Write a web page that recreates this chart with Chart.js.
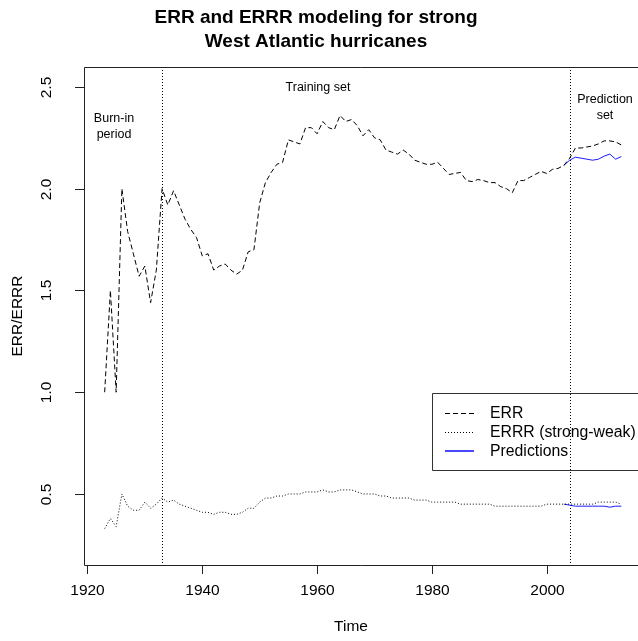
<!DOCTYPE html>
<html>
<head>
<meta charset="utf-8">
<script src="https://cdn.jsdelivr.net/npm/chart.js@4"></script>
<style>
  html, body { margin: 0; padding: 0; background: #fff; }
  #wrap { width: 638px; height: 641px; }
</style>
</head>
<body>
<div id="wrap"><canvas id="myChart" width="638" height="641"></canvas></div>
<script>
"use strict";

// yearly series, 1923-2013
const years = [
  1923, 1924, 1925, 1926, 1927, 1928, 1929, 1930, 1931, 1932,
  1933, 1934, 1935, 1936, 1937, 1938, 1939, 1940, 1941, 1942,
  1943, 1944, 1945, 1946, 1947, 1948, 1949, 1950, 1951, 1952,
  1953, 1954, 1955, 1956, 1957, 1958, 1959, 1960, 1961, 1962,
  1963, 1964, 1965, 1966, 1967, 1968, 1969, 1970, 1971, 1972,
  1973, 1974, 1975, 1976, 1977, 1978, 1979, 1980, 1981, 1982,
  1983, 1984, 1985, 1986, 1987, 1988, 1989, 1990, 1991, 1992,
  1993, 1994, 1995, 1996, 1997, 1998, 1999, 2000, 2001, 2002,
  2003, 2004, 2005, 2006, 2007, 2008, 2009, 2010, 2011, 2012,
  2013
];
const err = [
  1.00, 1.50, 1.00, 2.00, 1.79, 1.68, 1.57, 1.62, 1.44, 1.60,
  2.00, 1.92, 1.99, 1.92, 1.85, 1.80, 1.76, 1.67, 1.68, 1.60,
  1.62, 1.63, 1.60, 1.58, 1.60, 1.69, 1.70, 1.93, 2.03, 2.08,
  2.12, 2.13, 2.24, 2.23, 2.22, 2.30, 2.30, 2.27, 2.33, 2.30,
  2.29, 2.36, 2.33, 2.34, 2.31, 2.26, 2.29, 2.25, 2.24, 2.19,
  2.18, 2.17, 2.19, 2.17, 2.14, 2.13, 2.12, 2.12, 2.13, 2.10,
  2.07, 2.075, 2.08, 2.04, 2.035, 2.045, 2.04, 2.03, 2.03, 2.01,
  2.00, 1.98, 2.04, 2.04, 2.055, 2.07, 2.085, 2.075, 2.095, 2.10,
  2.115, 2.15, 2.20, 2.20, 2.205, 2.21, 2.22, 2.235, 2.235, 2.23,
  2.215
];
const errr = [
  0.33, 0.38, 0.34, 0.50, 0.44, 0.42, 0.42, 0.46, 0.43, 0.45,
  0.48, 0.46, 0.47, 0.45, 0.44, 0.43, 0.42, 0.41, 0.41, 0.40,
  0.41, 0.41, 0.40, 0.40, 0.41, 0.43, 0.43, 0.46, 0.48, 0.48,
  0.49, 0.49, 0.50, 0.50, 0.50, 0.51, 0.51, 0.51, 0.52, 0.51,
  0.51, 0.52, 0.52, 0.52, 0.51, 0.50, 0.50, 0.50, 0.49, 0.49,
  0.48, 0.48, 0.48, 0.48, 0.47, 0.47, 0.47, 0.46, 0.46, 0.46,
  0.46, 0.46, 0.45, 0.45, 0.45, 0.45, 0.45, 0.45, 0.44, 0.44,
  0.44, 0.44, 0.44, 0.44, 0.44, 0.44, 0.44, 0.45, 0.45, 0.45,
  0.45, 0.45, 0.45, 0.45, 0.45, 0.45, 0.46, 0.46, 0.46, 0.46,
  0.45
];

// model output over the prediction set
const predYears = [2003, 2004, 2005, 2006, 2007, 2008, 2009, 2010, 2011, 2012, 2013];
const predErr = [2.115, 2.14, 2.155, 2.15, 2.145, 2.14, 2.145, 2.16, 2.17, 2.145, 2.158];
const predErrr = [0.45, 0.445, 0.44, 0.44, 0.44, 0.44, 0.44, 0.44, 0.435, 0.44, 0.44];

const xTicks = [1920, 1940, 1960, 1980, 2000];
const yTicks = [0.5, 1.0, 1.5, 2.0, 2.5];
const phaseBreaks = [1933, 2004];
const legendLabels = ["ERR", "ERRR (strong-weak)", "Predictions"];

const FONT = "'Liberation Sans', Arial, sans-serif";
const BLUE = "#1a1aff";
const legendColors = ["#000", "#000", BLUE];
const legendDashes = [[5, 3], [1, 2], []];

function pairs(xs, ys) {
  return xs.map((x, i) => ({ x: x, y: ys[i] }));
}

// base-R look: box, outside ticks, rotated y labels, titles, notes, legend
const rPlot = {
  id: "rPlot",
  beforeDatasetsDraw(chart) {
    const ctx = chart.ctx;
    const a = chart.chartArea;
    const xs = chart.scales.x;
    ctx.save();
    ctx.strokeStyle = "#000";
    ctx.lineWidth = 1;
    ctx.setLineDash([1, 2]);
    phaseBreaks.forEach((v) => {
      const px = Math.round(xs.getPixelForValue(v)) + 0.5;
      ctx.beginPath();
      ctx.moveTo(px, a.top);
      ctx.lineTo(px, a.bottom);
      ctx.stroke();
    });
    ctx.restore();
  },
  afterDraw(chart) {
    const ctx = chart.ctx;
    const a = chart.chartArea;
    const xs = chart.scales.x;
    const ys = chart.scales.y;
    ctx.save();
    ctx.strokeStyle = "#222";
    ctx.lineWidth = 1;

    // plot box (right side runs off the canvas)
    ctx.beginPath();
    ctx.moveTo(a.right + 10, a.top + 0.5);
    ctx.lineTo(a.left + 0.5, a.top + 0.5);
    ctx.lineTo(a.left + 0.5, a.bottom + 0.5);
    ctx.lineTo(a.right + 10, a.bottom + 0.5);
    ctx.stroke();

    ctx.fillStyle = "#000";
    ctx.font = "15.5px " + FONT;

    // x axis
    ctx.textAlign = "center";
    ctx.textBaseline = "middle";
    xTicks.forEach((v) => {
      const px = Math.round(xs.getPixelForValue(v)) + 0.5;
      ctx.beginPath();
      ctx.moveTo(px, a.bottom);
      ctx.lineTo(px, a.bottom + 9);
      ctx.stroke();
      ctx.fillText(String(v), px, a.bottom + 26);
    });

    // y axis, labels turned like las=0
    yTicks.forEach((v) => {
      const py = Math.round(ys.getPixelForValue(v)) + 0.5;
      ctx.beginPath();
      ctx.moveTo(a.left, py);
      ctx.lineTo(a.left - 9, py);
      ctx.stroke();
      ctx.save();
      ctx.translate(a.left - 37, py);
      ctx.rotate(-Math.PI / 2);
      ctx.fillText(v.toFixed(1), 0, 0);
      ctx.restore();
    });

    // axis titles
    ctx.fillText("Time", 351, a.bottom + 62);
    ctx.save();
    ctx.translate(18, (a.top + a.bottom) / 2);
    ctx.rotate(-Math.PI / 2);
    ctx.fillText("ERR/ERRR", 0, 0);
    ctx.restore();

    // main title
    ctx.font = "bold 19px " + FONT;
    ctx.fillText("ERR and ERRR modeling for strong", 316, 18);
    ctx.fillText("West Atlantic hurricanes", 316, 42);

    // phase notes
    ctx.font = "12.5px " + FONT;
    ctx.fillText("Burn-in", 114, 119);
    ctx.fillText("period", 114, 135);
    ctx.fillText("Training set", 318, 88);
    ctx.fillText("Prediction", 605, 100);
    ctx.fillText("set", 605, 116);

    // legend
    const lx = 432, ly = 393, lh = 77;
    ctx.strokeStyle = "#333";
    ctx.beginPath();
    ctx.moveTo(650, ly + 0.5);
    ctx.lineTo(lx + 0.5, ly + 0.5);
    ctx.lineTo(lx + 0.5, ly + lh + 0.5);
    ctx.lineTo(650, ly + lh + 0.5);
    ctx.stroke();
    ctx.font = "15.8px " + FONT;
    ctx.textAlign = "left";
    legendLabels.forEach((label, i) => {
      const y = ly + 20.5 + i * 19;
      const isBlue = legendColors[i] === BLUE;
      ctx.strokeStyle = legendColors[i];
      ctx.lineWidth = isBlue ? 1.6 : 1;
      ctx.setLineDash(legendDashes[i]);
      ctx.beginPath();
      ctx.moveTo(lx + 13, isBlue ? y - 0.5 : y);
      ctx.lineTo(lx + 42, isBlue ? y - 0.5 : y);
      ctx.stroke();
      ctx.setLineDash([]);
      ctx.lineWidth = 1;
      ctx.fillStyle = "#000";
      ctx.fillText(label, lx + 58, y);
    });
    ctx.restore();
  },
};

const ctx = document.getElementById("myChart");

new Chart(ctx, {
  type: "line",
  data: {
    datasets: [
      {
        label: legendLabels[0],
        data: pairs(years, err),
        borderColor: legendColors[0],
        borderDash: legendDashes[0],
        borderWidth: 1,
      },
      {
        label: legendLabels[1],
        data: pairs(years, errr),
        borderColor: legendColors[1],
        borderDash: legendDashes[1],
        borderWidth: 1,
      },
      {
        label: legendLabels[2],
        data: pairs(predYears, predErr),
        borderColor: BLUE,
        borderWidth: 1,
      },
      {
        label: legendLabels[2],
        data: pairs(predYears, predErrr),
        borderColor: BLUE,
        borderWidth: 1,
      },
    ],
  },
  options: {
    responsive: false,
    devicePixelRatio: 1,
    animation: false,
    layout: { padding: { left: 84, top: 67, right: 0, bottom: 76 } },
    elements: {
      point: { radius: 0 },
      line: { tension: 0 },
    },
    plugins: {
      legend: { display: false },
      tooltip: { enabled: false },
    },
    scales: {
      x: { type: "linear", min: 1919.4, max: 2015.9, display: false },
      y: { type: "linear", min: 0.151, max: 2.598, display: false },
    },
  },
  plugins: [rPlot],
});
</script>
</body>
</html>
